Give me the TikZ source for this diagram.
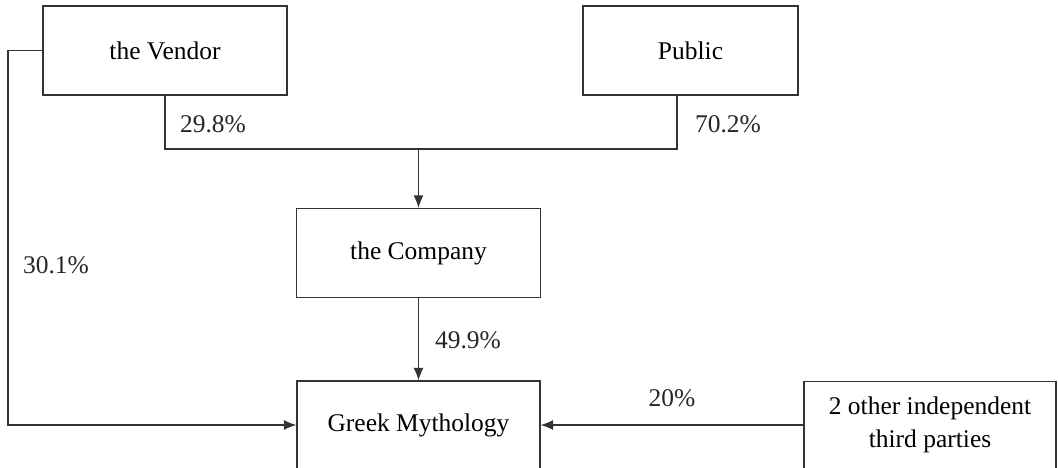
\documentclass[tikz,border=0pt]{standalone}
\usepackage{fontspec}
\setmainfont{Liberation Serif}
\usetikzlibrary{arrows.meta,positioning,calc}
\definecolor{linegray}{HTML}{333333}

\begin{document}
\begin{tikzpicture}[x=0.02cm,y=-0.02cm,>={Latex[length=2.5mm,width=2mm]},
  every node/.style={font=\fontsize{14.5}{18.8}\selectfont},
  box/.style={draw=linegray,line width=0.7pt,minimum width=4.88cm,minimum height=1.78cm,inner sep=0pt},
  link/.style={draw=linegray,line width=0.7pt},
  pct/.style={text=black!85}]

\clip (0,0) rectangle (1058,467);

% ---- holders ----
\node[box] (vendor) at (165,50.5) {the Vendor};
\node[box,minimum width=4.3cm] (public) at (690.5,50.5) {Public};

% ---- company and target ----
\node[box] (company) at (418.5,253) {the Company};
\node[box,minimum width=4.86cm,minimum height=1.76cm] (greek) at (418.5,425) {Greek Mythology};
\node[box,minimum width=5.04cm,minimum height=1.74cm,align=center] (third) at (930,425)
   {2 other independent\\third parties};

% ---- joint holding into the Company ----
\coordinate (pj) at (677,149);
\coordinate (vj) at (vendor.south |- pj);
\draw[link] (vendor.south) -- (vj) -- (pj) -- (pj |- public.south);
\draw[link,->] (company.north |- pj) -- (company.north);
\node[pct] (p298) at (213,124) {29.8\%};
\node[pct] (p702) at (728,124) {70.2\%};

% ---- stakes in Greek Mythology ----
\draw[link,->] (company.south) -- (greek.north);
\node[pct] (p499) at (468,340) {49.9\%};

\coordinate (vl) at (8,50.5);
\draw[link,->] (vendor.west) -- (vl) |- (greek.west);
\node[pct] (p301) at (56,265) {30.1\%};

\draw[link,->] (third.west) -- (greek.east);
\node[pct] (p20) at (672,398) {20\%};

\end{tikzpicture}
\end{document}
